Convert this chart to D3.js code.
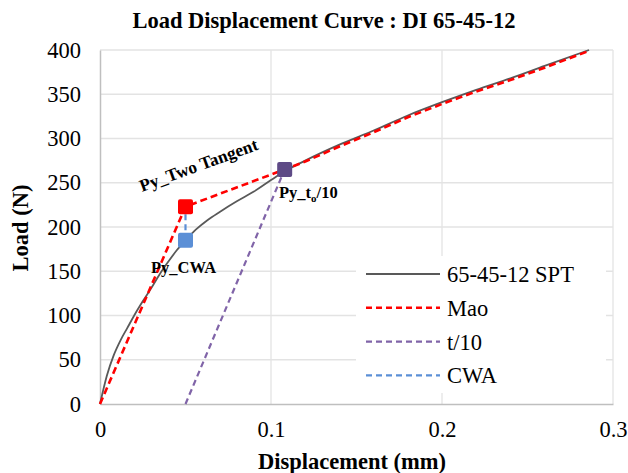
<!DOCTYPE html>
<html>
<head>
<meta charset="utf-8">
<script src="https://cdn.jsdelivr.net/npm/d3@7"></script>
<style>
  body { margin: 0; background: #fff; }
</style>
</head>
<body>
<div id="chart"></div>
<script>
// ---- data ----
var xTicks = [0, 0.1, 0.2, 0.3];
var yTicks = [0, 50, 100, 150, 200, 250, 300, 350, 400];

// measured load-displacement curve
var sptX = [0, 0.004, 0.008, 0.012, 0.016, 0.02, 0.025, 0.03, 0.035, 0.04, 0.045, 0.05, 0.056, 0.063, 0.07, 0.08, 0.09, 0.1, 0.108, 0.12, 0.14, 0.16, 0.18, 0.2, 0.22, 0.24, 0.26, 0.286];
var sptY = [0, 32, 55, 72, 86, 100, 116, 131, 147, 161, 174, 185, 197, 208, 217, 229, 240, 253, 263, 275, 293, 309, 326, 341, 355, 368, 382, 400];

// Mao (two tangent) construction
var maoX = [0, 0.05, 0.108, 0.12, 0.14, 0.16, 0.18, 0.2, 0.22, 0.24, 0.26, 0.286];
var maoY = [0, 223, 265, 274, 291, 307, 324, 339, 353, 366, 380, 399];

// t/10 offset line
var t10X = [0.05, 0.108];
var t10Y = [0, 265];

// CWA
var cwaX = [0.05, 0.05];
var cwaY = [185, 223];

// marker points
var markX = [0.05, 0.05, 0.108];
var markY = [223, 185, 265];
var markColor = ["#ff0000", "#5b8fd6", "#5e4a86"];

var legendNames = ["65-45-12 SPT", "Mao", "t/10", "CWA"];

var FONT = "'Liberation Serif', 'Times New Roman', Times, serif";

// ---- layout ----
var width = 628, height = 473;
var svg = d3.select("#chart").append("svg")
  .attr("width", width)
  .attr("height", height)
  .style("font-family", FONT);

var x = d3.scaleLinear().domain([0, 0.3]).range([100, 613]);
var y = d3.scaleLinear().domain([0, 400]).range([404, 50]);

// gridlines
svg.append("g").selectAll("line.h")
  .data(yTicks.slice(1))
  .enter().append("line")
  .attr("x1", x(0)).attr("x2", x(0.3))
  .attr("y1", d => y(d)).attr("y2", d => y(d))
  .attr("stroke", "#e3e3e3").attr("stroke-width", 1.3);

svg.append("g").selectAll("line.v")
  .data(xTicks.slice(1))
  .enter().append("line")
  .attr("x1", d => x(d)).attr("x2", d => x(d))
  .attr("y1", y(0)).attr("y2", y(400))
  .attr("stroke", "#e3e3e3").attr("stroke-width", 1.3);

// axes
var leftAxis = d3.axisLeft(y).tickValues(yTicks).tickSize(0).tickPadding(19);
var bottomAxis = d3.axisBottom(x).tickValues(xTicks).tickSize(0).tickPadding(17)
  .tickFormat(d => d === 0 ? "0" : d3.format(".1f")(d));

var ya = svg.append("g").attr("transform", `translate(${x(0)},0)`).call(leftAxis);
var xa = svg.append("g").attr("transform", `translate(0,${y(0)})`).call(bottomAxis);
[ya, xa].forEach(function(g) {
  g.attr("font-family", FONT).attr("font-size", 22.5);
  g.select(".domain").attr("stroke", "#bfbfbf").attr("stroke-width", 1.5);
  g.selectAll("text").attr("fill", "#000");
});

// line generator
var line = d3.line().x(d => x(d[0])).y(d => y(d[1]));
function pairs(xs, ys) { return xs.map((v, i) => [v, ys[i]]); }

svg.append("path").datum(pairs(sptX, sptY))
  .attr("d", line.curve(d3.curveMonotoneX))
  .attr("fill", "none").attr("stroke", "#595959").attr("stroke-width", 1.8);

line.curve(d3.curveLinear);

svg.append("path").datum(pairs(t10X, t10Y))
  .attr("d", line)
  .attr("fill", "none").attr("stroke", "#8064a8").attr("stroke-width", 2.2)
  .attr("stroke-dasharray", "6,4");

svg.append("path").datum(pairs(cwaX, cwaY))
  .attr("d", line)
  .attr("fill", "none").attr("stroke", "#5b8fd6").attr("stroke-width", 2.2)
  .attr("stroke-dasharray", "6,4");

svg.append("path").datum(pairs(maoX, maoY))
  .attr("d", line)
  .attr("fill", "none").attr("stroke", "#ff0000").attr("stroke-width", 2.6)
  .attr("stroke-dasharray", "7,4");

// markers
var ms = 15;
svg.append("g").selectAll("rect")
  .data(pairs(markX, markY))
  .enter().append("rect")
  .attr("x", d => x(d[0]) - ms / 2)
  .attr("y", d => y(d[1]) - ms / 2)
  .attr("width", ms).attr("height", ms)
  .attr("rx", 2)
  .attr("fill", (d, i) => markColor[i]);

// annotations
svg.append("text")
  .attr("transform", "translate(142,192) rotate(-20)")
  .style("font-size", "17.5px").style("font-weight", "bold")
  .text("Py_Two Tangent");

var t = svg.append("text")
  .attr("x", 279).attr("y", 198)
  .style("font-size", "16.5px").style("font-weight", "bold");
t.append("tspan").text("Py_t");
t.append("tspan").attr("dy", 4).style("font-size", "11px").text("o");
t.append("tspan").attr("dy", -4).text("/10");

svg.append("text")
  .attr("x", 151).attr("y", 273)
  .style("font-size", "16.5px").style("font-weight", "bold")
  .text("Py_CWA");

// legend
var lg = svg.append("g");
lg.append("rect").attr("x", 356).attr("y", 256).attr("width", 250).attr("height", 137).attr("fill", "#fff");
var legStyles = [
  { c: "#595959", w: 1.8, dash: null },
  { c: "#ff0000", w: 2.6, dash: "6,4" },
  { c: "#8064a8", w: 2.4, dash: "6,4" },
  { c: "#5b8fd6", w: 2.4, dash: "6,4" }
];
legendNames.forEach(function(name, i) {
  var yy = 274 + i * 33.8;
  lg.append("line")
    .attr("x1", 366).attr("x2", 440).attr("y1", yy).attr("y2", yy)
    .attr("stroke", legStyles[i].c).attr("stroke-width", legStyles[i].w)
    .attr("stroke-dasharray", legStyles[i].dash);
  lg.append("text").attr("x", 447).attr("y", yy + 8)
    .style("font-size", "22.5px").text(name);
});

// titles
svg.append("text")
  .attr("x", 324).attr("y", 28)
  .attr("text-anchor", "middle")
  .style("font-size", "22.5px").style("font-weight", "bold")
  .text("Load Displacement Curve : DI 65-45-12");

svg.append("text")
  .attr("x", 352).attr("y", 469)
  .attr("text-anchor", "middle")
  .style("font-size", "22.5px").style("font-weight", "bold")
  .text("Displacement (mm)");

svg.append("text")
  .attr("transform", "translate(28,228) rotate(-90)")
  .attr("text-anchor", "middle")
  .style("font-size", "22.5px").style("font-weight", "bold")
  .text("Load (N)");
</script>
</body>
</html>
